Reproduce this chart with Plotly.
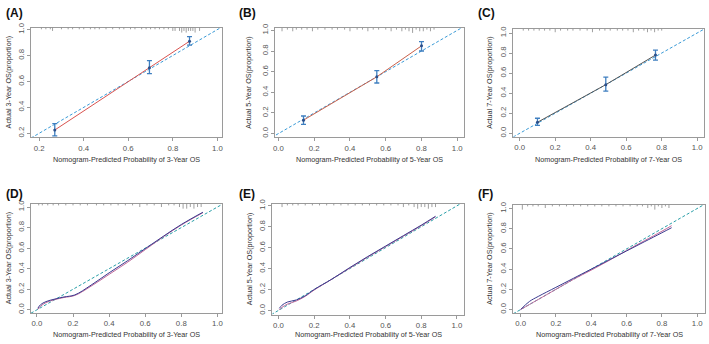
import plotly.graph_objects as go

# ---------------- data ----------------
panel_labels = ["(A)", "(B)", "(C)", "(D)", "(E)", "(F)"]
years = ["3", "5", "7", "3", "5", "7"]

# top row: grouped calibration points with error bars
A_pred = [0.27, 0.695, 0.875]
A_obs = [0.225, 0.705, 0.910]
A_lo = [0.180, 0.660, 0.880]
A_hi = [0.275, 0.760, 0.945]

B_pred = [0.14, 0.55, 0.80]
B_obs = [0.13, 0.55, 0.85]
B_lo = [0.09, 0.49, 0.80]
B_hi = [0.17, 0.61, 0.89]

C_pred = [0.10, 0.485, 0.765]
C_obs = [0.11, 0.485, 0.780]
C_lo = [0.08, 0.42, 0.73]
C_hi = [0.15, 0.56, 0.83]

# bottom row: continuous calibration curves (apparent / bias-corrected)
D_x = [0.005, 0.02, 0.05, 0.10, 0.15, 0.21, 0.30, 0.40, 0.50, 0.60, 0.70, 0.80, 0.92]
D_app = [0.015, 0.05, 0.08, 0.105, 0.125, 0.145, 0.24, 0.36, 0.475, 0.595, 0.715, 0.83, 0.95]
D_cor = [0.005, 0.035, 0.07, 0.10, 0.12, 0.14, 0.23, 0.345, 0.46, 0.585, 0.71, 0.825, 0.945]

E_x = [0.005, 0.02, 0.05, 0.10, 0.15, 0.20, 0.30, 0.40, 0.50, 0.60, 0.70, 0.80, 0.88]
E_app = [0.02, 0.05, 0.08, 0.10, 0.14, 0.20, 0.30, 0.41, 0.515, 0.615, 0.715, 0.815, 0.90]
E_cor = [0.005, 0.03, 0.06, 0.09, 0.135, 0.195, 0.30, 0.405, 0.51, 0.61, 0.71, 0.81, 0.895]

F_x = [0.0, 0.05, 0.10, 0.20, 0.30, 0.40, 0.50, 0.60, 0.70, 0.80, 0.855]
F_app = [0.0, 0.08, 0.13, 0.22, 0.31, 0.40, 0.49, 0.58, 0.67, 0.76, 0.81]
F_cor = [0.0, 0.05, 0.10, 0.20, 0.30, 0.39, 0.485, 0.585, 0.68, 0.775, 0.83]

# rug of predicted probabilities (x position, relative height)
A_rug_x = [0.21, 0.23, 0.25, 0.26, 0.30, 0.33, 0.35, 0.38, 0.40, 0.43, 0.45, 0.47, 0.50, 0.53, 0.56, 0.58, 0.61,
           0.63, 0.66, 0.68, 0.70, 0.72, 0.74, 0.76, 0.78, 0.80, 0.81, 0.83, 0.84, 0.85, 0.86, 0.87, 0.88, 0.89, 0.90, 0.92]
A_rug_h = [1, 1, 1, 2, 1, 1, 1, 1, 1, 1, 1, 1, 1, 1, 1, 1, 1,
           1, 1, 1, 1, 1, 1, 1, 1, 2, 2, 2, 3, 2, 3, 2, 2, 2, 3, 2]
B_rug_x = [0.02, 0.05, 0.08, 0.10, 0.13, 0.16, 0.19, 0.22, 0.26, 0.30, 0.33, 0.37, 0.40, 0.44, 0.47, 0.50, 0.53,
           0.56, 0.60, 0.63, 0.66, 0.69, 0.71, 0.73, 0.75, 0.77, 0.79, 0.81, 0.83, 0.85, 0.87]
B_rug_h = [2, 1, 2, 1, 1, 1, 2, 1, 1, 1, 1, 1, 2, 1, 1, 2, 1,
           1, 1, 2, 1, 2, 1, 2, 3, 1, 2, 2, 1, 2, 1]
C_rug_x = [0.02, 0.05, 0.08, 0.11, 0.14, 0.17, 0.20, 0.23, 0.27, 0.30, 0.34, 0.38, 0.41, 0.45, 0.48, 0.51, 0.55,
           0.58, 0.61, 0.64, 0.67, 0.70, 0.72, 0.74, 0.76, 0.78, 0.80]
C_rug_h = [1, 1, 1, 1, 1, 1, 2, 1, 1, 1, 1, 1, 2, 1, 1, 1, 1,
           1, 1, 2, 1, 1, 2, 1, 2, 1, 1]
D_rug_x = [0.01, 0.03, 0.06, 0.09, 0.12, 0.16, 0.20, 0.24, 0.28, 0.33, 0.37, 0.41, 0.45, 0.49, 0.53, 0.57, 0.61,
           0.65, 0.69, 0.73, 0.76, 0.79, 0.81, 0.83, 0.85, 0.87, 0.89, 0.91]
D_rug_h = [1, 1, 1, 1, 1, 1, 1, 1, 1, 1, 1, 1, 1, 1, 1, 2, 1,
           1, 2, 1, 1, 2, 3, 3, 2, 3, 2, 2]
E_rug_x = [0.02, 0.05, 0.08, 0.11, 0.15, 0.19, 0.23, 0.27, 0.31, 0.35, 0.39, 0.43, 0.47, 0.51, 0.55, 0.59, 0.63,
           0.67, 0.70, 0.73, 0.76, 0.78, 0.80, 0.82, 0.84, 0.86, 0.88]
E_rug_h = [2, 1, 1, 1, 1, 1, 1, 1, 1, 1, 1, 1, 1, 1, 1, 1, 1,
           1, 2, 1, 2, 3, 2, 2, 3, 2, 2]
F_rug_x = [0.01, 0.04, 0.07, 0.10, 0.14, 0.18, 0.22, 0.26, 0.30, 0.34, 0.38, 0.42, 0.46, 0.50, 0.54, 0.58, 0.62,
           0.66, 0.69, 0.72, 0.74, 0.76, 0.78, 0.80, 0.82, 0.84]
F_rug_h = [3, 1, 1, 1, 2, 1, 1, 1, 1, 1, 1, 1, 1, 1, 1, 1, 1,
           1, 1, 2, 1, 3, 1, 2, 1, 2]

# ---------------- layout constants ----------------
x_domains = [[0.041, 0.312], [0.3865, 0.654], [0.724, 0.995],
             [0.041, 0.312], [0.383, 0.655], [0.724, 0.996]]
y_domains = [[0.609, 0.933], [0.608, 0.932], [0.610, 0.929],
             [0.089, 0.412], [0.084, 0.412], [0.089, 0.409]]
x_ranges = [[0.163, 1.022], [-0.02, 1.036], [-0.037, 1.041],
            [-0.033, 1.027], [-0.034, 1.042], [-0.042, 1.045]]
y_ranges = [[0.17, 1.015], [-0.038, 1.023], [-0.035, 1.04],
            [-0.03, 1.032], [-0.04, 1.02], [-0.033, 1.037]]

RED = "#d9534f"
DARK = "#555555"
BLUE_ERR = "#3f7fc0"
DIAG = "#3a9ad6"
DIAG2 = "#2a9fa8"
NAVY = "#3b3b8f"
PINK = "#c0699a"
BOX = "#9a9a9a"
TICK = "#555555"
FONT = "Liberation Sans, Arial"

fig = go.Figure()

top = [(A_pred, A_obs, A_lo, A_hi, RED), (B_pred, B_obs, B_lo, B_hi, "#c8604a"), (C_pred, C_obs, C_lo, C_hi, DARK)]
bottom = [(D_x, D_app, D_cor), (E_x, E_app, E_cor), (F_x, F_app, F_cor)]
rugs = [(A_rug_x, A_rug_h), (B_rug_x, B_rug_h), (C_rug_x, C_rug_h),
        (D_rug_x, D_rug_h), (E_rug_x, E_rug_h), (F_rug_x, F_rug_h)]

shapes = []
annotations = []
for i in range(6):
    xa = "x" if i == 0 else f"x{i+1}"
    ya = "y" if i == 0 else f"y{i+1}"
    lo, hi = min(x_ranges[i][0], y_ranges[i][0]), max(x_ranges[i][1], y_ranges[i][1])
    # diagonal reference
    fig.add_trace(go.Scatter(x=[lo, hi], y=[lo, hi], mode="lines", xaxis=xa, yaxis=ya,
                             line=dict(color=DIAG if i < 3 else DIAG2, width=1, dash="3px,2px"),
                             showlegend=False, hoverinfo="skip"))
    if i < 3:
        px, ob, l, h, col = top[i]
        fig.add_trace(go.Scatter(x=px, y=ob, mode="lines", xaxis=xa, yaxis=ya,
                                 line=dict(color=col, width=1), showlegend=False))
        fig.add_trace(go.Scatter(
            x=px, y=ob, mode="markers", xaxis=xa, yaxis=ya,
            marker=dict(symbol="circle", size=3, color="#2c4f8a"),
            error_y=dict(type="data", symmetric=False,
                         array=[hh - o for hh, o in zip(h, ob)],
                         arrayminus=[o - ll for ll, o in zip(l, ob)],
                         color=BLUE_ERR, thickness=1.3, width=2.5),
            showlegend=False))
    else:
        cx, app, cor = bottom[i - 3]
        fig.add_trace(go.Scatter(x=cx, y=cor, mode="lines", xaxis=xa, yaxis=ya,
                                 line=dict(color=PINK, width=1, shape="spline"), showlegend=False))
        fig.add_trace(go.Scatter(x=cx, y=app, mode="lines", xaxis=xa, yaxis=ya,
                                 line=dict(color=NAVY, width=1, shape="spline"), showlegend=False))
    # rug
    rx, rh = rugs[i]
    for xv, hv in zip(rx, rh):
        shapes.append(dict(type="line", xref=xa, yref=f"{ya} domain", x0=xv, x1=xv,
                           y0=1, y1=1 - 0.015 * hv, line=dict(color="#888888", width=0.8)))

    tv = [0.2, 0.4, 0.6, 0.8, 1.0] if i == 0 else [0.0, 0.2, 0.4, 0.6, 0.8, 1.0]
    tt = [f"{v:.1f}" for v in tv]
    ax_common = dict(range=x_ranges[i], domain=x_domains[i], tickmode="array",
                     tickvals=tv, ticktext=tt,
                     ticks="outside", ticklen=3, tickcolor=BOX, tickwidth=0.8,
                     showline=True, mirror=True, linecolor=BOX, linewidth=1,
                     showgrid=False, zeroline=False,
                     tickfont=dict(family=FONT, size=7.8, color=TICK),
                     anchor=ya)
    ay_common = dict(range=y_ranges[i], domain=y_domains[i], tickmode="array",
                     tickvals=tv, ticktext=tt,
                     ticks="outside", ticklen=3, tickcolor=BOX, tickwidth=0.8, tickangle=-90,
                     showline=True, mirror=True, linecolor=BOX, linewidth=1,
                     showgrid=False, zeroline=False,
                     tickfont=dict(family=FONT, size=7.8, color=TICK),
                     anchor=xa)
    fig.layout["xaxis" if i == 0 else f"xaxis{i+1}"] = ax_common
    fig.layout["yaxis" if i == 0 else f"yaxis{i+1}"] = ay_common

    # titles
    xt_y = 1 - 157 / 344 if i < 3 else 1 - 335.5 / 344
    annotations.append(dict(text=f"Nomogram-Predicted Probability of {years[i]}-Year OS",
                            xref="paper", yref="paper",
                            x=(x_domains[i][0] + x_domains[i][1]) / 2, y=xt_y,
                            showarrow=False, xanchor="center", yanchor="middle",
                            font=dict(family=FONT, size=7.2, color="#333333")))
    yt_x = [6, 248, 490][i % 3] / 709
    annotations.append(dict(text=f"Actual {years[i]}-Year OS(proportion)",
                            xref="paper", yref="paper", textangle=-90,
                            x=yt_x, y=(y_domains[i][0] + y_domains[i][1]) / 2,
                            showarrow=False, xanchor="center", yanchor="middle",
                            font=dict(family=FONT, size=7.2, color="#333333")))
    lbl_x = [2, 236, 476][i % 3] / 709
    lbl_y = 1 - (8 if i < 3 else 192) / 344
    annotations.append(dict(text=f"<b>{panel_labels[i]}</b>", xref="paper", yref="paper",
                            x=lbl_x, y=lbl_y, xanchor="left", yanchor="middle", showarrow=False,
                            font=dict(family=FONT, size=12, color="#111111")))

fig.update_layout(width=709, height=344, margin=dict(l=0, r=0, t=0, b=0),
                  paper_bgcolor="white", plot_bgcolor="white",
                  shapes=shapes, annotations=annotations)

fig.write_html("out.html", config={"displayModeBar": False},
               post_script="document.body.style.margin='0';document.body.style.overflow='hidden';")
